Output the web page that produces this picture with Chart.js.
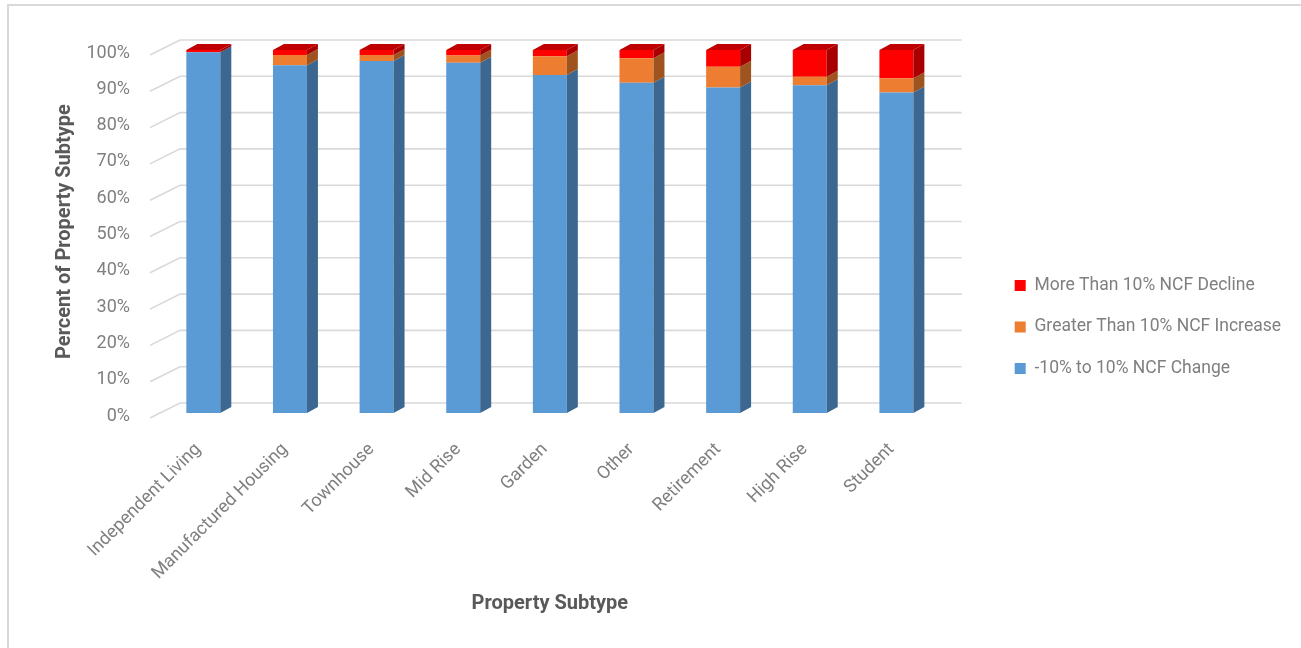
<!DOCTYPE html>
<html>
<head>
<meta charset="utf-8">
<title>NCF Change by Property Subtype</title>
<script src="https://cdn.jsdelivr.net/npm/chart.js@4.4.1/dist/chart.umd.min.js"></script>
<style>
  html, body { margin: 0; padding: 0; background: #fff; overflow: hidden; }
  #wrap { position: relative; width: 1301px; height: 648px; }
  #frame { position: absolute; left: 7px; top: 4px; width: 1400px; height: 700px;
           border-top: 2px solid #d9d9d9; border-left: 2px solid #d9d9d9; pointer-events: none; }
</style>
</head>
<body>
<div id="wrap">
  <canvas id="ncfChart"></canvas>
  <div id="frame"></div>
</div>
<script>
// property subtypes along the x axis
const subtypes = ['Independent Living', 'Manufactured Housing', 'Townhouse', 'Mid Rise', 'Garden',
                  'Other', 'Retirement', 'High Rise', 'Student'];
// share of loans per subtype, in percent
const flatChange = [99.4, 95.8, 97.0, 96.5, 93.1, 91.0, 89.7, 90.3, 88.3];
const bigIncrease = [0, 2.8, 1.6, 2.0, 5.2, 6.7, 5.7, 2.3, 3.9];
const bigDecline = [0.6, 1.4, 1.4, 1.5, 1.7, 2.3, 4.6, 7.4, 7.8];
const seriesNames = ['-10% to 10% NCF Change', 'Greater Than 10% NCF Increase', 'More Than 10% NCF Decline'];
const yTicks = [0, 10, 20, 30, 40, 50, 60, 70, 80, 90, 100];

const FONT = 'Roboto, "Liberation Sans", sans-serif';
const TICK_GREY = '#7f7f7f';
const TITLE_GREY = '#595959';
const GRID = '#d9d9d9';

// front / side / top colours for each series
const faces = [
  { front: '#5b9bd5', side: '#3b6790', top: '#4a80b0' },
  { front: '#ed7d31', side: '#9f5420', top: '#c0652a' },
  { front: '#ff0000', side: '#a80000', top: '#c00000' }
];

// extrusion of the columns
const DEPTH_X = 11, DEPTH_Y = -6;

function quad(ctx, pts, color) {
  ctx.beginPath();
  ctx.moveTo(pts[0][0], pts[0][1]);
  for (let i = 1; i < pts.length; i++) ctx.lineTo(pts[i][0], pts[i][1]);
  ctx.closePath();
  ctx.fillStyle = color;
  ctx.fill();
}

// back wall and side wall grid, like an excel 3d column chart
const wallPlugin = {
  id: 'wall3d',
  beforeDatasetsDraw(chart) {
    const { ctx, chartArea, scales } = chart;
    const y = scales.y;
    ctx.save();
    ctx.strokeStyle = GRID;
    ctx.lineWidth = 1.6;
    yTicks.forEach(v => {
      const py = y.getPixelForValue(v);
      ctx.beginPath();
      ctx.moveTo(chartArea.left - 10, py + 5);
      ctx.lineTo(chartArea.left + 20, py - 10);
      ctx.lineTo(chartArea.right + 22, py - 10);
      ctx.stroke();
    });
    ctx.restore();
  },
  afterDatasetsDraw(chart) {
    const { ctx } = chart;
    const sets = chart.data.datasets;
    ctx.save();
    sets.forEach((ds, di) => {
      chart.getDatasetMeta(di).data.forEach((bar, i) => {
        if (!ds.data[i]) return;
        const p = bar.getProps(['x', 'y', 'base', 'width'], true);
        const right = p.x + p.width / 2, left = p.x - p.width / 2;
        quad(ctx, [[right, p.y], [right + DEPTH_X, p.y + DEPTH_Y],
                   [right + DEPTH_X, p.base + DEPTH_Y], [right, p.base]], faces[di].side);
        // top face only on the highest non-empty segment
        let topIdx = -1;
        sets.forEach((d, k) => { if (d.data[i] > 0) topIdx = k; });
        if (topIdx === di) {
          quad(ctx, [[left, p.y], [left + DEPTH_X, p.y + DEPTH_Y],
                     [right + DEPTH_X, p.y + DEPTH_Y], [right, p.y]], faces[di].top);
        }
      });
    });
    ctx.restore();
  }
};

const values = [flatChange, bigIncrease, bigDecline];

new Chart(document.getElementById('ncfChart'), {
  type: 'bar',
  data: {
    labels: subtypes,
    datasets: values.map((arr, i) => ({
      label: seriesNames[i],
      data: arr,
      backgroundColor: faces[i].front,
      borderWidth: 0,
      categoryPercentage: 0.8,
      barPercentage: 0.49
    }))
  },
  options: {
    responsive: true,
    maintainAspectRatio: false,
    animation: false,
    layout: { padding: { top: 34, bottom: 28, left: 47, right: 10 } },
    plugins: {
      tooltip: { enabled: false },
      legend: {
        position: 'right',
        reverse: true,
        maxWidth: 400,
        labels: {
          boxWidth: 11, boxHeight: 11, padding: 24,
          color: TICK_GREY,
          font: { family: FONT, size: 17.5 }
        }
      }
    },
    scales: {
      x: {
        stacked: true,
        grid: { display: false, drawTicks: false },
        border: { display: false },
        ticks: { minRotation: 45, maxRotation: 45, padding: 26, labelOffset: -5, color: TICK_GREY,
                 font: { family: FONT, size: 18 } },
        title: { display: true, text: 'Property Subtype', color: TITLE_GREY,
                 font: { family: FONT, size: 20, weight: 'bold' }, padding: { top: 4, bottom: 4 } },
        afterFit(s) { s.height = 207; }
      },
      y: {
        stacked: true,
        min: 0, max: 100,
        afterBuildTicks(s) { s.ticks = yTicks.map(v => ({ value: v })); },
        grid: { display: false, drawTicks: false },
        border: { display: false },
        ticks: { padding: 30, labelOffset: 3, color: TICK_GREY, font: { family: FONT, size: 18 },
                 callback: v => v + '%' },
        title: { display: true, text: 'Percent of Property Subtype', color: TITLE_GREY,
                 font: { family: FONT, size: 20, weight: 'bold' }, padding: { top: 6, bottom: 4 } },
        afterFit(s) { s.width = 113; }
      },
      // empty room above the plot and between plot and legend
      topGap: {
        type: 'linear', position: 'top', display: true,
        grid: { display: false }, border: { display: false }, ticks: { display: false },
        afterFit(s) { s.height = 16; }
      },
      rightGap: {
        type: 'linear', position: 'right', display: true,
        grid: { display: false }, border: { display: false }, ticks: { display: false },
        afterFit(s) { s.width = 51; }
      }
    }
  },
  plugins: [wallPlugin]
});
</script>
</body>
</html>
